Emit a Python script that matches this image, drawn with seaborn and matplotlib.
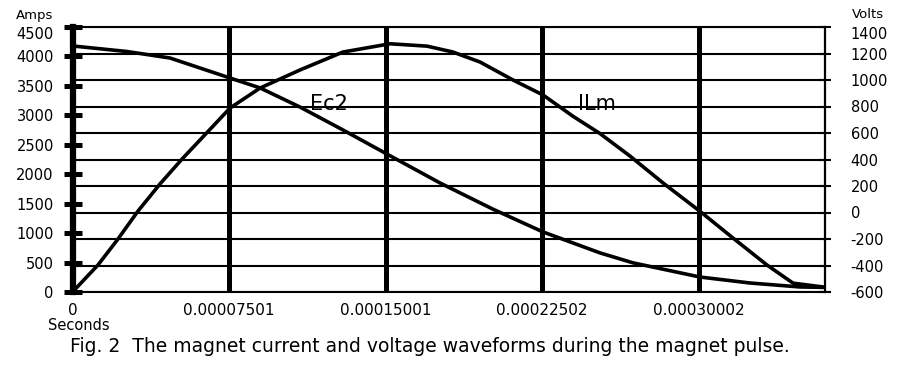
import numpy as np
import pandas as pd
import matplotlib
matplotlib.use("Agg")
import matplotlib.pyplot as plt
import seaborn as sns

# ---- data (time in microseconds) ----
time_i_us = [0, 12.2, 21.8, 31.4, 41.9, 52.5, 61.1, 75.5, 89.9, 109.0, 129.6, 152.2,
             169.9, 182.3, 195.3, 211.1, 225.5, 239.8, 252.8, 267.1, 283.0, 300.7,
             316.5, 332.8, 345.3, 359.7]
current_a = [0, 458, 900, 1375, 1834, 2258, 2581, 3124, 3464, 3770, 4075, 4215,
             4175, 4075, 3905, 3600, 3345, 2985, 2690, 2310, 1851, 1370,
             917, 458, 150, 85]

time_v_us = [0, 26.1, 46.7, 75.5, 89.9, 109.0, 129.6, 150.7, 176.1, 201.5, 225.5,
             252.8, 268.6, 300.7, 324.6, 348.6, 359.7]
voltage_v = [1257, 1215, 1166, 1015, 940, 796, 623, 441, 223, 25, -147,
             -305, -380, -487, -532, -562, -565]

x_ticks = [0, 0.00007501, 0.00015001, 0.00022502, 0.00030002]
x_tick_labels = ["0", "0.00007501", "0.00015001", "0.00022502", "0.00030002"]
amps_ticks = list(range(0, 4501, 500))
volts_ticks = list(range(-600, 1401, 200))

sns.set_style("white")
plt.rcParams['font.family'] = ['DejaVu Sans']
plt.rcParams['text.color'] = 'black'
plt.rcParams['xtick.color'] = 'black'
plt.rcParams['ytick.color'] = 'black'
plt.rcParams['xtick.labelcolor'] = 'black'
plt.rcParams['ytick.labelcolor'] = 'black'

fig = plt.figure(figsize=(9, 3.66), dpi=100)
ax1 = fig.add_axes([72.5 / 900, 1 - 292 / 366, (825 - 72.5) / 900, 265 / 366])
ax2 = ax1.twinx()

df_i = pd.DataFrame({"t": np.array(time_i_us) * 1e-6, "I": current_a})
df_v = pd.DataFrame({"t": np.array(time_v_us) * 1e-6, "V": voltage_v})

sns.lineplot(data=df_i, x="t", y="I", ax=ax1, color="black", lw=2.6, zorder=5)
sns.lineplot(data=df_v, x="t", y="V", ax=ax2, color="black", lw=2.6, zorder=5)

ax1.set_xlim(0, 0.0003606)
ax1.set_ylim(0, 4500)
ax2.set_ylim(-600, 1400)

ax1.set_xticks(x_ticks)
ax1.set_xticklabels(x_tick_labels)
ax1.set_yticks(amps_ticks)
ax2.set_yticks(volts_ticks)
ax2.set_yticklabels([str(v) for v in volts_ticks])

ax1.set_xlabel("")
ax1.set_ylabel("")
ax2.set_ylabel("")

# grids
ax1.grid(axis="x", color="black", lw=3.6)
ax1.grid(axis="y", visible=False)
ax2.grid(axis="y", color="black", lw=1.5)
ax1.set_axisbelow(False)

# spines
for s in ["top", "bottom", "right"]:
    ax1.spines[s].set_visible(False)
ax1.spines["left"].set_linewidth(4.5)
ax1.spines["left"].set_color("black")
ax2.spines["left"].set_visible(False)
ax2.spines["right"].set_linewidth(1.6)
ax2.spines["right"].set_color("black")
for s in ["top", "bottom"]:
    ax2.spines[s].set_linewidth(1.5)
    ax2.spines[s].set_color("black")

ax1.tick_params(axis="y", direction="inout", length=13, width=3.6, color="black",
                labelcolor="black", labelsize=10.5, pad=7)
ax1.tick_params(axis="x", direction="inout", length=0, labelcolor="black",
                labelsize=11, pad=8)
ax2.tick_params(axis="y", direction="inout", length=9, width=1.5, color="black",
                labelcolor="black", labelsize=10.5, pad=14)

# nudge top tick labels down slightly, like the reference
for lab in ax1.get_yticklabels()[-1:]:
    lab.set_va("top")
for lab in ax2.get_yticklabels()[-1:]:
    lab.set_va("top")

# curve labels
ax2.text(0.0001229, 819, "Ec2", fontsize=15, ha="center", va="center", color="black")
ax2.text(0.0002513, 819, "ILm", fontsize=15, ha="center", va="center", color="black")

fig.text(35 / 900, 1 - 15 / 366, "Amps", fontsize=9.5, ha="center", va="center",
         color="black")
fig.text(868 / 900, 1 - 14 / 366, "Volts", fontsize=9.5, ha="center", va="center",
         color="black")
fig.text(79 / 900, 1 - 326 / 366, "Seconds", fontsize=10.5, ha="center", va="center",
         color="black")
fig.text(70 / 900, 1 - 346 / 366,
         "Fig. 2  The magnet current and voltage waveforms during the magnet pulse.",
         fontsize=13.5, ha="left", va="center", color="black")

fig.savefig("out.png", dpi=100, facecolor="white")
